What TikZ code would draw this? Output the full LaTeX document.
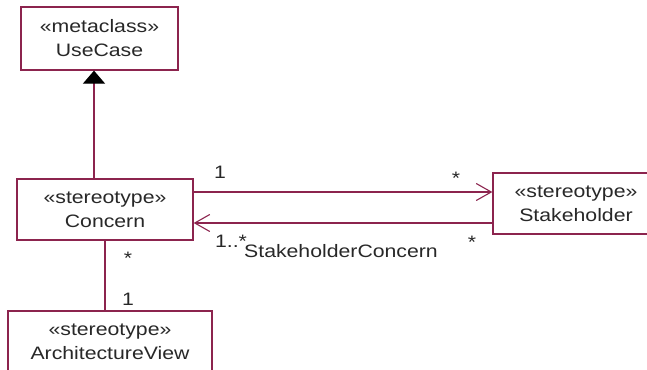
\documentclass[tikz,border=0pt]{standalone}
\usepackage{fontspec}
\setmainfont[FakeStretch=1.18]{Liberation Sans}
\usetikzlibrary{arrows.meta}
\definecolor{umlline}{RGB}{140,36,78}
\definecolor{umltext}{RGB}{40,40,40}
\tikzset{
  classbox/.style={draw=umlline, line width=1.3pt, fill=white, inner sep=0pt,
    align=center, text=umltext, font=\fontsize{18}{24}\selectfont},
  assoc/.style={draw=umlline, line width=1.3pt},
  navarrow/.style={assoc, -{Straight Barb[length=15pt, width=17pt, line width=1.1pt]}},
  genarrow/.style={assoc, -{Triangle[length=13pt, width=22pt, fill=black, color=black]}},
  mult/.style={text=umltext, font=\fontsize{18}{20}\selectfont, inner sep=0pt}
}
\begin{document}
\begin{tikzpicture}[x=1pt, y=-1pt]
  \useasboundingbox (0,0) rectangle (647,369);
  \clip (0,0) rectangle (647,369);
  % classes
  \node[classbox, minimum width=157pt, minimum height=63pt] (usecase) at (99.5,38.5)
    {«metaclass»\\UseCase};
  \node[classbox, minimum width=176pt, minimum height=61pt] (concern) at (105,209.5)
    {«stereotype»\\Concern};
  \node[classbox, minimum width=166pt, minimum height=61pt] (stakeholder) at (576,203.5)
    {«stereotype»\\Stakeholder};
  \node[classbox, minimum width=204pt, minimum height=61pt] (archview) at (110,341.5)
    {«stereotype»\\ArchitectureView};
  % generalization Concern -> UseCase
  \draw[genarrow] ([xshift=-5.5pt]usecase.south |- concern.north) -- ([xshift=-5.5pt]usecase.south);
  % association Concern -> Stakeholder (upper)
  \coordinate (cA) at ([yshift=17.5pt]concern.east);
  \draw[navarrow] (cA) -- (cA -| stakeholder.west);
  % association StakeholderConcern, Stakeholder -> Concern (lower)
  \coordinate (sA) at ([yshift=-19.5pt]stakeholder.west);
  \draw[navarrow] (sA) -- (sA -| concern.east);
  % association Concern -- ArchitectureView
  \draw[assoc] (concern.south) -- (concern.south |- archview.north);
  % multiplicities and role name
  \node[mult] (m1) at (220,172) {1};
  \node[mult] (m2) at (456,178) {*};
  \node[mult] (m3) at (231,241) {1..*};
  \node[mult] (m4) at (472,242) {*};
  \node[mult] (role) at (341,251) {StakeholderConcern};
  \node[mult] (m5) at (128,258) {*};
  \node[mult] (m6) at (128,299) {1};
\end{tikzpicture}
\end{document}
